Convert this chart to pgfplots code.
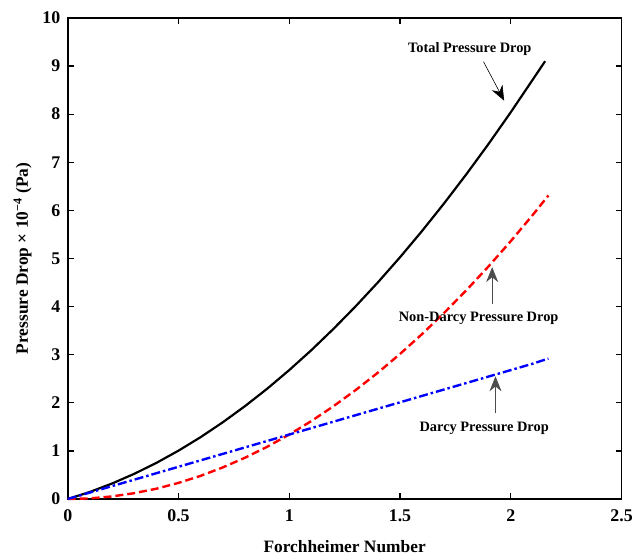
\documentclass[border=0pt]{standalone}
\usepackage{pgfplots}
\pgfplotsset{compat=1.18}
\usepackage{fontspec}
\setmainfont{Liberation Serif}
\usetikzlibrary{arrows.meta}
\begin{document}
\begin{tikzpicture}
\begin{axis}[
  scale only axis, width=556bp, height=483bp,
  xmin=0, xmax=2.5, ymin=0, ymax=10,
  xtick={0,0.5,1,1.5,2,2.5}, ytick={0,1,...,10},
  xticklabels={0,0.5,1,1.5,2,2.5},
  tick align=inside, major tick length=6bp,
  xtick pos=both, ytick pos=both,
  axis line style={line width=1.6bp},
  every tick/.style={line width=1.2bp, black},
  /pgf/number format/assume math mode=true,
  tick label style={font=\fontsize{18}{18}\selectfont\bfseries},
  xticklabel style={yshift=-7bp},
  yticklabel style={xshift=-4bp},
  label style={font=\fontsize{17.5}{17.5}\selectfont\bfseries},
  xlabel={Forchheimer Number},
  ylabel={Pressure Drop × 10\textsuperscript{−4} (Pa)},
  xlabel style={yshift=-12bp},
  ylabel style={yshift=4bp},
  clip=false,
]
\addplot[black, line width=2.2bp] coordinates {
(0,0) (0.1,0.147) (0.2,0.322) (0.3,0.523) (0.4,0.750) (0.5,1.005) (0.6,1.286) (0.7,1.595) (0.8,1.930) (0.9,2.291) (1.0,2.680) (1.1,3.095) (1.2,3.538) (1.3,4.007) (1.4,4.502) (1.5,5.025) (1.6,5.574) (1.7,6.151) (1.8,6.754) (1.9,7.383) (2.0,8.040) (2.1,8.723) (2.155,9.10)
};
\addplot[red, line width=2.4bp, dash pattern=on 8bp off 4bp] coordinates {
(0,0) (0.1,0.013) (0.2,0.054) (0.3,0.121) (0.4,0.214) (0.5,0.335) (0.6,0.482) (0.7,0.657) (0.8,0.858) (0.9,1.085) (1.0,1.340) (1.1,1.621) (1.2,1.930) (1.3,2.265) (1.4,2.626) (1.5,3.015) (1.6,3.430) (1.7,3.873) (1.8,4.342) (1.9,4.837) (2.0,5.360) (2.1,5.909) (2.17,6.31)
};
\addplot[blue, line width=2.4bp, dash pattern=on 9bp off 3bp on 2.5bp off 3bp] coordinates {
(0,0) (0.1,0.134) (0.2,0.268) (0.3,0.402) (0.4,0.536) (0.5,0.670) (0.6,0.804) (0.7,0.938) (0.8,1.072) (0.9,1.206) (1.0,1.340) (1.1,1.474) (1.2,1.608) (1.3,1.742) (1.4,1.876) (1.5,2.010) (1.6,2.144) (1.7,2.278) (1.8,2.412) (1.9,2.546) (2.0,2.680) (2.1,2.814) (2.17,2.92)
};
\node[font=\fontsize{14.5}{14.5}\selectfont\bfseries] at (axis cs:1.815,9.36) {Total Pressure Drop};
\draw[-{Stealth[length=15bp,width=12bp]}, line width=0.6bp] (axis cs:1.877,9.09) -- (axis cs:1.97,8.28);
\node[font=\fontsize{14.5}{14.5}\selectfont\bfseries] at (axis cs:1.855,3.75) {Non-Darcy Pressure Drop};
\draw[-{Stealth[length=15bp,width=12bp]}, line width=0.6bp, gray!60!black] (axis cs:1.916,4.06) -- (axis cs:1.916,4.82);
\node[font=\fontsize{14.5}{14.5}\selectfont\bfseries] at (axis cs:1.88,1.47) {Darcy Pressure Drop};
\draw[-{Stealth[length=15bp,width=12bp]}, line width=0.6bp, gray!60!black] (axis cs:1.931,1.78) -- (axis cs:1.931,2.55);
\end{axis}
\path (current axis.south west) ++(-68bp,-55bp) (current axis.north east) ++(12bp,18bp);
\end{tikzpicture}
\end{document}
